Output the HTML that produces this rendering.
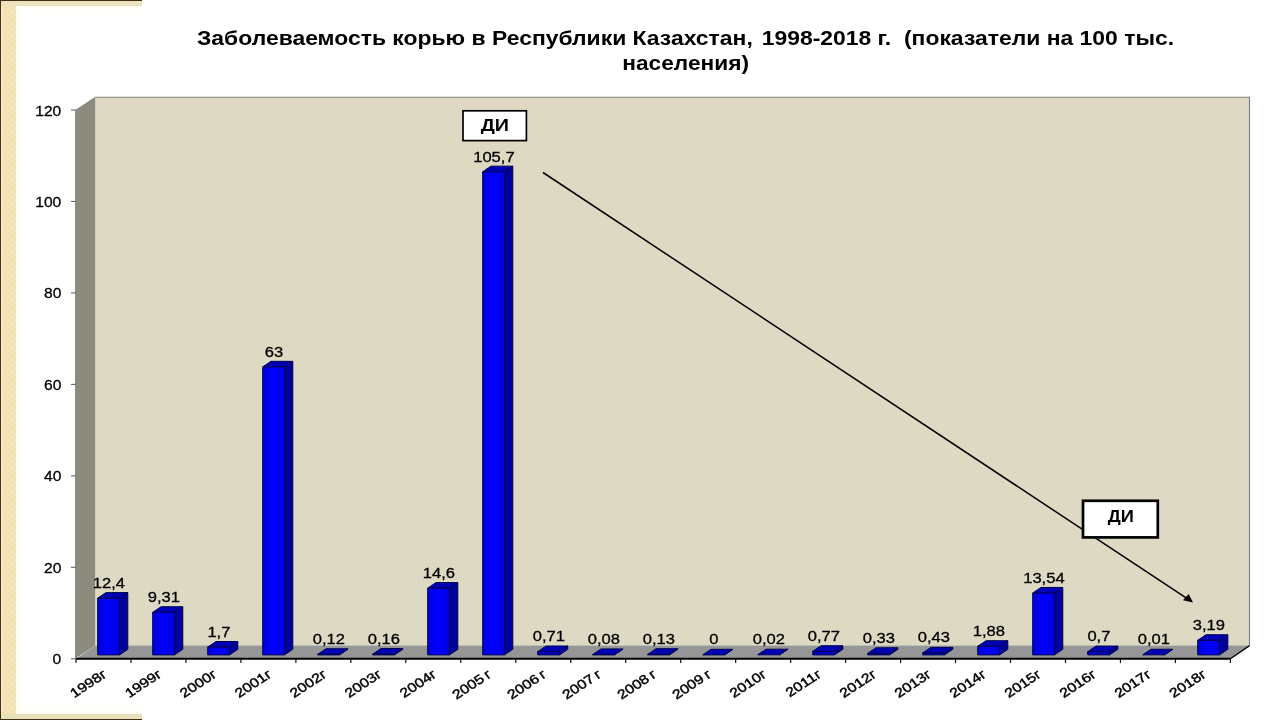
<!DOCTYPE html>
<html lang="ru">
<head>
<meta charset="utf-8">
<title>Заболеваемость корью в Республики Казахстан, 1998-2018 г.</title>
<style>
html,body{margin:0;padding:0;background:#fff;}
body{width:1280px;height:720px;overflow:hidden;position:relative;font-family:"Liberation Sans",sans-serif;}
#deco{position:absolute;left:0;top:0;width:142px;height:720px;background:#3e2f10;}
#deco .strip{position:absolute;left:1px;top:1px;right:0;bottom:1px;background:linear-gradient(#ece2c0,#ece2c0) 0 0/100% 5px no-repeat,linear-gradient(#e9e1ba,#e9e1ba) 0 100%/100% 5px no-repeat,linear-gradient(90deg,#fdf0d8 1px,rgba(253,240,216,0) 1px),repeating-conic-gradient(#f2dfb2 0 25%,#f7e5ba 0 50%) 0 0/6px 6px;}
#deco .inner{position:absolute;left:16px;top:5.5px;right:0;bottom:6px;background:#fff;box-shadow:inset 6px 0 5px -2px #fdfdf1, inset 0 6px 6px -3px #fffef6, inset 0 -9px 8px -3px #fffef6;}
svg{position:absolute;left:0;top:0;}
text{font-family:"Liberation Sans",sans-serif;fill:#000;}
.t{font-weight:bold;font-size:20px;white-space:pre;}
.ax,.dl{stroke:#000;stroke-width:0.3px;}
.xl{stroke:#000;stroke-width:0.42px;}
.ax{font-size:15px;}
.dl{font-size:15.2px;}
.xl{font-size:13.2px;word-spacing:-1.2px;}
.di{font-weight:bold;font-size:17.33px;}
.di2{font-weight:bold;font-size:16px;}
</style>
</head>
<body>
<div id="deco"><div class="strip"></div><div class="inner"></div></div>
<svg width="1280" height="720" viewBox="0 0 1280 720">
<text class="t" transform="translate(197.00,45.00) scale(1.146,1)" xml:space="preserve">Заболеваемость корью в Республики Казахстан, <tspan dx="2.2">1998-2018 г.  (показатели на 100 тыс.</tspan></text>
<text class="t" transform="translate(685.60,70.00) scale(1.135,1)" text-anchor="middle">населения)</text>
<defs><linearGradient id="fg" x1="0" x2="1" y1="0" y2="0"><stop offset="0" stop-color="#0000d6"/><stop offset="0.45" stop-color="#0000ff"/><stop offset="1" stop-color="#0000e2"/></linearGradient></defs>
<polygon points="75.0,658.8 95.5,645.5999999999999 95.5,97.3 75.0,110.8" fill="#8d8b7d"/>
<rect x="95.5" y="97.3" width="1154.0" height="548.3" fill="#ddd9c3"/>
<polyline points="95.5,97.3 1249.5,97.3 1249.5,645.5999999999999" fill="none" stroke="#7c7c78" stroke-width="1.1"/>
<polyline points="76.0,110.0 95.5,97.3" fill="none" stroke="#808080" stroke-width="1"/>
<polygon points="76.0,658.8 95.5,645.5999999999999 1249.5,645.5999999999999 1230.4,658.8" fill="#969696"/>
<polygon points="119.50,654.9 127.80,649.30 127.80,592.62 119.50,598.22" fill="#00009c" stroke="#000050" stroke-width="1" stroke-linejoin="round"/><polygon points="97.70,598.22 106.00,592.62 127.80,592.62 119.50,598.22" fill="#0000b4" stroke="#000050" stroke-width="1" stroke-linejoin="round"/><rect x="97.70" y="598.22" width="21.8" height="56.68" fill="url(#fg)" stroke="#000050" stroke-width="1" stroke-linejoin="round"/>
<polygon points="174.50,654.9 182.80,649.30 182.80,606.74 174.50,612.34" fill="#00009c" stroke="#000050" stroke-width="1" stroke-linejoin="round"/><polygon points="152.70,612.34 161.00,606.74 182.80,606.74 174.50,612.34" fill="#0000b4" stroke="#000050" stroke-width="1" stroke-linejoin="round"/><rect x="152.70" y="612.34" width="21.8" height="42.56" fill="url(#fg)" stroke="#000050" stroke-width="1" stroke-linejoin="round"/>
<polygon points="229.50,654.9 237.80,649.30 237.80,641.53 229.50,647.13" fill="#00009c" stroke="#000050" stroke-width="1" stroke-linejoin="round"/><polygon points="207.70,647.13 216.00,641.53 237.80,641.53 229.50,647.13" fill="#0000b4" stroke="#000050" stroke-width="1" stroke-linejoin="round"/><rect x="207.70" y="647.13" width="21.8" height="7.77" fill="url(#fg)" stroke="#000050" stroke-width="1" stroke-linejoin="round"/>
<polygon points="284.50,654.9 292.80,649.30 292.80,361.33 284.50,366.93" fill="#00009c" stroke="#000050" stroke-width="1" stroke-linejoin="round"/><polygon points="262.70,366.93 271.00,361.33 292.80,361.33 284.50,366.93" fill="#0000b4" stroke="#000050" stroke-width="1" stroke-linejoin="round"/><rect x="262.70" y="366.93" width="21.8" height="287.97" fill="url(#fg)" stroke="#000050" stroke-width="1" stroke-linejoin="round"/>
<polygon points="339.50,654.9 347.80,649.30 347.80,648.75 339.50,654.35" fill="#00009c" stroke="#000050" stroke-width="1" stroke-linejoin="round"/><polygon points="317.70,654.35 326.00,648.75 347.80,648.75 339.50,654.35" fill="#0000b4" stroke="#000050" stroke-width="1" stroke-linejoin="round"/><rect x="317.70" y="654.35" width="21.8" height="0.55" fill="#0000c8" stroke="#000050" stroke-width="1" stroke-linejoin="round"/>
<polygon points="394.50,654.9 402.80,649.30 402.80,648.57 394.50,654.17" fill="#00009c" stroke="#000050" stroke-width="1" stroke-linejoin="round"/><polygon points="372.70,654.17 381.00,648.57 402.80,648.57 394.50,654.17" fill="#0000b4" stroke="#000050" stroke-width="1" stroke-linejoin="round"/><rect x="372.70" y="654.17" width="21.8" height="0.73" fill="#0000c8" stroke="#000050" stroke-width="1" stroke-linejoin="round"/>
<polygon points="449.50,654.9 457.80,649.30 457.80,582.56 449.50,588.16" fill="#00009c" stroke="#000050" stroke-width="1" stroke-linejoin="round"/><polygon points="427.70,588.16 436.00,582.56 457.80,582.56 449.50,588.16" fill="#0000b4" stroke="#000050" stroke-width="1" stroke-linejoin="round"/><rect x="427.70" y="588.16" width="21.8" height="66.74" fill="url(#fg)" stroke="#000050" stroke-width="1" stroke-linejoin="round"/>
<polygon points="504.50,654.9 512.80,649.30 512.80,166.15 504.50,171.75" fill="#00009c" stroke="#000050" stroke-width="1" stroke-linejoin="round"/><polygon points="482.70,171.75 491.00,166.15 512.80,166.15 504.50,171.75" fill="#0000b4" stroke="#000050" stroke-width="1" stroke-linejoin="round"/><rect x="482.70" y="171.75" width="21.8" height="483.15" fill="url(#fg)" stroke="#000050" stroke-width="1" stroke-linejoin="round"/>
<polygon points="559.50,654.9 567.80,649.30 567.80,646.05 559.50,651.65" fill="#00009c" stroke="#000050" stroke-width="1" stroke-linejoin="round"/><polygon points="537.70,651.65 546.00,646.05 567.80,646.05 559.50,651.65" fill="#0000b4" stroke="#000050" stroke-width="1" stroke-linejoin="round"/><rect x="537.70" y="651.65" width="21.8" height="3.25" fill="#0000c8" stroke="#000050" stroke-width="1" stroke-linejoin="round"/>
<polygon points="614.50,654.9 622.80,649.30 622.80,648.93 614.50,654.53" fill="#00009c" stroke="#000050" stroke-width="1" stroke-linejoin="round"/><polygon points="592.70,654.53 601.00,648.93 622.80,648.93 614.50,654.53" fill="#0000b4" stroke="#000050" stroke-width="1" stroke-linejoin="round"/><rect x="592.70" y="654.53" width="21.8" height="0.37" fill="#0000c8" stroke="#000050" stroke-width="1" stroke-linejoin="round"/>
<polygon points="669.50,654.9 677.80,649.30 677.80,648.71 669.50,654.31" fill="#00009c" stroke="#000050" stroke-width="1" stroke-linejoin="round"/><polygon points="647.70,654.31 656.00,648.71 677.80,648.71 669.50,654.31" fill="#0000b4" stroke="#000050" stroke-width="1" stroke-linejoin="round"/><rect x="647.70" y="654.31" width="21.8" height="0.59" fill="#0000c8" stroke="#000050" stroke-width="1" stroke-linejoin="round"/>
<polygon points="724.50,654.9 732.80,649.30 732.80,649.30 724.50,654.90" fill="#00009c" stroke="#000050" stroke-width="1" stroke-linejoin="round"/><polygon points="702.70,654.90 711.00,649.30 732.80,649.30 724.50,654.90" fill="#0000b4" stroke="#000050" stroke-width="1" stroke-linejoin="round"/>
<polygon points="779.50,654.9 787.80,649.30 787.80,649.21 779.50,654.81" fill="#00009c" stroke="#000050" stroke-width="1" stroke-linejoin="round"/><polygon points="757.70,654.81 766.00,649.21 787.80,649.21 779.50,654.81" fill="#0000b4" stroke="#000050" stroke-width="1" stroke-linejoin="round"/>
<polygon points="834.50,654.9 842.80,649.30 842.80,645.78 834.50,651.38" fill="#00009c" stroke="#000050" stroke-width="1" stroke-linejoin="round"/><polygon points="812.70,651.38 821.00,645.78 842.80,645.78 834.50,651.38" fill="#0000b4" stroke="#000050" stroke-width="1" stroke-linejoin="round"/><rect x="812.70" y="651.38" width="21.8" height="3.52" fill="#0000c8" stroke="#000050" stroke-width="1" stroke-linejoin="round"/>
<polygon points="889.50,654.9 897.80,649.30 897.80,647.79 889.50,653.39" fill="#00009c" stroke="#000050" stroke-width="1" stroke-linejoin="round"/><polygon points="867.70,653.39 876.00,647.79 897.80,647.79 889.50,653.39" fill="#0000b4" stroke="#000050" stroke-width="1" stroke-linejoin="round"/><rect x="867.70" y="653.39" width="21.8" height="1.51" fill="#0000c8" stroke="#000050" stroke-width="1" stroke-linejoin="round"/>
<polygon points="944.50,654.9 952.80,649.30 952.80,647.33 944.50,652.93" fill="#00009c" stroke="#000050" stroke-width="1" stroke-linejoin="round"/><polygon points="922.70,652.93 931.00,647.33 952.80,647.33 944.50,652.93" fill="#0000b4" stroke="#000050" stroke-width="1" stroke-linejoin="round"/><rect x="922.70" y="652.93" width="21.8" height="1.97" fill="#0000c8" stroke="#000050" stroke-width="1" stroke-linejoin="round"/>
<polygon points="999.50,654.9 1007.80,649.30 1007.80,640.71 999.50,646.31" fill="#00009c" stroke="#000050" stroke-width="1" stroke-linejoin="round"/><polygon points="977.70,646.31 986.00,640.71 1007.80,640.71 999.50,646.31" fill="#0000b4" stroke="#000050" stroke-width="1" stroke-linejoin="round"/><rect x="977.70" y="646.31" width="21.8" height="8.59" fill="url(#fg)" stroke="#000050" stroke-width="1" stroke-linejoin="round"/>
<polygon points="1054.50,654.9 1062.80,649.30 1062.80,587.41 1054.50,593.01" fill="#00009c" stroke="#000050" stroke-width="1" stroke-linejoin="round"/><polygon points="1032.70,593.01 1041.00,587.41 1062.80,587.41 1054.50,593.01" fill="#0000b4" stroke="#000050" stroke-width="1" stroke-linejoin="round"/><rect x="1032.70" y="593.01" width="21.8" height="61.89" fill="url(#fg)" stroke="#000050" stroke-width="1" stroke-linejoin="round"/>
<polygon points="1109.50,654.9 1117.80,649.30 1117.80,646.10 1109.50,651.70" fill="#00009c" stroke="#000050" stroke-width="1" stroke-linejoin="round"/><polygon points="1087.70,651.70 1096.00,646.10 1117.80,646.10 1109.50,651.70" fill="#0000b4" stroke="#000050" stroke-width="1" stroke-linejoin="round"/><rect x="1087.70" y="651.70" width="21.8" height="3.20" fill="#0000c8" stroke="#000050" stroke-width="1" stroke-linejoin="round"/>
<polygon points="1164.50,654.9 1172.80,649.30 1172.80,649.25 1164.50,654.85" fill="#00009c" stroke="#000050" stroke-width="1" stroke-linejoin="round"/><polygon points="1142.70,654.85 1151.00,649.25 1172.80,649.25 1164.50,654.85" fill="#0000b4" stroke="#000050" stroke-width="1" stroke-linejoin="round"/>
<polygon points="1219.50,654.9 1227.80,649.30 1227.80,634.72 1219.50,640.32" fill="#00009c" stroke="#000050" stroke-width="1" stroke-linejoin="round"/><polygon points="1197.70,640.32 1206.00,634.72 1227.80,634.72 1219.50,640.32" fill="#0000b4" stroke="#000050" stroke-width="1" stroke-linejoin="round"/><rect x="1197.70" y="640.32" width="21.8" height="14.58" fill="url(#fg)" stroke="#000050" stroke-width="1" stroke-linejoin="round"/>
<line x1="76.0" y1="658.8" x2="1230.4" y2="658.8" stroke="#000" stroke-width="2"/>
<line x1="1230.4" y1="658.8" x2="1249.5" y2="645.5999999999999" stroke="#000" stroke-width="1.3"/>
<line x1="76.00" y1="658.8" x2="76.00" y2="663.0999999999999" stroke="#111" stroke-width="1.2"/><line x1="130.97" y1="658.8" x2="130.97" y2="663.0999999999999" stroke="#111" stroke-width="1.2"/><line x1="185.94" y1="658.8" x2="185.94" y2="663.0999999999999" stroke="#111" stroke-width="1.2"/><line x1="240.91" y1="658.8" x2="240.91" y2="663.0999999999999" stroke="#111" stroke-width="1.2"/><line x1="295.89" y1="658.8" x2="295.89" y2="663.0999999999999" stroke="#111" stroke-width="1.2"/><line x1="350.86" y1="658.8" x2="350.86" y2="663.0999999999999" stroke="#111" stroke-width="1.2"/><line x1="405.83" y1="658.8" x2="405.83" y2="663.0999999999999" stroke="#111" stroke-width="1.2"/><line x1="460.80" y1="658.8" x2="460.80" y2="663.0999999999999" stroke="#111" stroke-width="1.2"/><line x1="515.77" y1="658.8" x2="515.77" y2="663.0999999999999" stroke="#111" stroke-width="1.2"/><line x1="570.74" y1="658.8" x2="570.74" y2="663.0999999999999" stroke="#111" stroke-width="1.2"/><line x1="625.71" y1="658.8" x2="625.71" y2="663.0999999999999" stroke="#111" stroke-width="1.2"/><line x1="680.69" y1="658.8" x2="680.69" y2="663.0999999999999" stroke="#111" stroke-width="1.2"/><line x1="735.66" y1="658.8" x2="735.66" y2="663.0999999999999" stroke="#111" stroke-width="1.2"/><line x1="790.63" y1="658.8" x2="790.63" y2="663.0999999999999" stroke="#111" stroke-width="1.2"/><line x1="845.60" y1="658.8" x2="845.60" y2="663.0999999999999" stroke="#111" stroke-width="1.2"/><line x1="900.57" y1="658.8" x2="900.57" y2="663.0999999999999" stroke="#111" stroke-width="1.2"/><line x1="955.54" y1="658.8" x2="955.54" y2="663.0999999999999" stroke="#111" stroke-width="1.2"/><line x1="1010.51" y1="658.8" x2="1010.51" y2="663.0999999999999" stroke="#111" stroke-width="1.2"/><line x1="1065.49" y1="658.8" x2="1065.49" y2="663.0999999999999" stroke="#111" stroke-width="1.2"/><line x1="1120.46" y1="658.8" x2="1120.46" y2="663.0999999999999" stroke="#111" stroke-width="1.2"/><line x1="1175.43" y1="658.8" x2="1175.43" y2="663.0999999999999" stroke="#111" stroke-width="1.2"/><line x1="1230.40" y1="658.8" x2="1230.40" y2="663.0999999999999" stroke="#111" stroke-width="1.2"/>
<line x1="71.0" y1="658.80" x2="76.0" y2="658.80" stroke="#666" stroke-width="1.1"/><text class="ax" transform="translate(61.30,664.30) scale(1.04,1)" text-anchor="end">0</text>
<line x1="71.0" y1="567.33" x2="76.0" y2="567.33" stroke="#666" stroke-width="1.1"/><text class="ax" transform="translate(61.30,572.83) scale(1.04,1)" text-anchor="end">20</text>
<line x1="71.0" y1="475.87" x2="76.0" y2="475.87" stroke="#666" stroke-width="1.1"/><text class="ax" transform="translate(61.30,481.37) scale(1.04,1)" text-anchor="end">40</text>
<line x1="71.0" y1="384.40" x2="76.0" y2="384.40" stroke="#666" stroke-width="1.1"/><text class="ax" transform="translate(61.30,389.90) scale(1.04,1)" text-anchor="end">60</text>
<line x1="71.0" y1="292.93" x2="76.0" y2="292.93" stroke="#666" stroke-width="1.1"/><text class="ax" transform="translate(61.30,298.43) scale(1.04,1)" text-anchor="end">80</text>
<line x1="71.0" y1="201.47" x2="76.0" y2="201.47" stroke="#666" stroke-width="1.1"/><text class="ax" transform="translate(61.30,206.97) scale(1.04,1)" text-anchor="end">100</text>
<line x1="71.0" y1="110.00" x2="76.0" y2="110.00" stroke="#666" stroke-width="1.1"/><text class="ax" transform="translate(61.30,115.50) scale(1.04,1)" text-anchor="end">120</text>
<text class="dl" transform="translate(108.90,587.76) scale(1.09,1)" text-anchor="middle">12,4</text><text class="dl" transform="translate(163.90,601.87) scale(1.09,1)" text-anchor="middle">9,31</text><text class="dl" transform="translate(218.90,636.63) scale(1.09,1)" text-anchor="middle">1,7</text><text class="dl" transform="translate(273.90,356.62) scale(1.09,1)" text-anchor="middle">63</text><text class="dl" transform="translate(328.90,643.85) scale(1.09,1)" text-anchor="middle">0,12</text><text class="dl" transform="translate(383.90,643.67) scale(1.09,1)" text-anchor="middle">0,16</text><text class="dl" transform="translate(438.90,577.71) scale(1.09,1)" text-anchor="middle">14,6</text><text class="dl" transform="translate(493.90,161.56) scale(1.09,1)" text-anchor="middle">105,7</text><text class="dl" transform="translate(548.90,641.16) scale(1.09,1)" text-anchor="middle">0,71</text><text class="dl" transform="translate(603.90,644.03) scale(1.09,1)" text-anchor="middle">0,08</text><text class="dl" transform="translate(658.90,643.81) scale(1.09,1)" text-anchor="middle">0,13</text><text class="dl" transform="translate(713.90,644.40) scale(1.09,1)" text-anchor="middle">0</text><text class="dl" transform="translate(768.90,644.31) scale(1.09,1)" text-anchor="middle">0,02</text><text class="dl" transform="translate(823.90,640.88) scale(1.09,1)" text-anchor="middle">0,77</text><text class="dl" transform="translate(878.90,642.89) scale(1.09,1)" text-anchor="middle">0,33</text><text class="dl" transform="translate(933.90,642.44) scale(1.09,1)" text-anchor="middle">0,43</text><text class="dl" transform="translate(988.90,635.81) scale(1.09,1)" text-anchor="middle">1,88</text><text class="dl" transform="translate(1043.90,582.55) scale(1.09,1)" text-anchor="middle">13,54</text><text class="dl" transform="translate(1098.90,641.20) scale(1.09,1)" text-anchor="middle">0,7</text><text class="dl" transform="translate(1153.90,644.35) scale(1.09,1)" text-anchor="middle">0,01</text><text class="dl" transform="translate(1208.90,629.83) scale(1.09,1)" text-anchor="middle">3,19</text>
<text class="xl" transform="translate(107.79,676.0) rotate(-33.5) skewX(4) scale(1.18,1)" text-anchor="end">1998г</text><text class="xl" transform="translate(162.76,676.0) rotate(-33.5) skewX(4) scale(1.18,1)" text-anchor="end">1999г</text><text class="xl" transform="translate(217.73,676.0) rotate(-33.5) skewX(4) scale(1.18,1)" text-anchor="end">2000г</text><text class="xl" transform="translate(272.70,676.0) rotate(-33.5) skewX(4) scale(1.18,1)" text-anchor="end">2001г</text><text class="xl" transform="translate(327.67,676.0) rotate(-33.5) skewX(4) scale(1.18,1)" text-anchor="end">2002г</text><text class="xl" transform="translate(382.64,676.0) rotate(-33.5) skewX(4) scale(1.18,1)" text-anchor="end">2003г</text><text class="xl" transform="translate(437.61,676.0) rotate(-33.5) skewX(4) scale(1.18,1)" text-anchor="end">2004г</text><text class="xl" transform="translate(492.59,676.0) rotate(-33.5) skewX(4) scale(1.18,1)" text-anchor="end">2005 г</text><text class="xl" transform="translate(547.56,676.0) rotate(-33.5) skewX(4) scale(1.18,1)" text-anchor="end">2006 г</text><text class="xl" transform="translate(602.53,676.0) rotate(-33.5) skewX(4) scale(1.18,1)" text-anchor="end">2007 г</text><text class="xl" transform="translate(657.50,676.0) rotate(-33.5) skewX(4) scale(1.18,1)" text-anchor="end">2008 г</text><text class="xl" transform="translate(712.47,676.0) rotate(-33.5) skewX(4) scale(1.18,1)" text-anchor="end">2009 г</text><text class="xl" transform="translate(767.44,676.0) rotate(-33.5) skewX(4) scale(1.18,1)" text-anchor="end">2010г</text><text class="xl" transform="translate(822.41,676.0) rotate(-33.5) skewX(4) scale(1.18,1)" text-anchor="end">2011г</text><text class="xl" transform="translate(877.39,676.0) rotate(-33.5) skewX(4) scale(1.18,1)" text-anchor="end">2012г</text><text class="xl" transform="translate(932.36,676.0) rotate(-33.5) skewX(4) scale(1.18,1)" text-anchor="end">2013г</text><text class="xl" transform="translate(987.33,676.0) rotate(-33.5) skewX(4) scale(1.18,1)" text-anchor="end">2014г</text><text class="xl" transform="translate(1042.30,676.0) rotate(-33.5) skewX(4) scale(1.18,1)" text-anchor="end">2015г</text><text class="xl" transform="translate(1097.27,676.0) rotate(-33.5) skewX(4) scale(1.18,1)" text-anchor="end">2016г</text><text class="xl" transform="translate(1152.24,676.0) rotate(-33.5) skewX(4) scale(1.18,1)" text-anchor="end">2017г</text><text class="xl" transform="translate(1207.21,676.0) rotate(-33.5) skewX(4) scale(1.18,1)" text-anchor="end">2018г</text>
<line x1="543" y1="172.5" x2="1188" y2="599.2" stroke="#000" stroke-width="1.5"/>
<polygon points="1193,602.5 1183,600.2 1188.7,594" fill="#000"/>
<rect x="463" y="110.8" width="63.4" height="29.8" fill="#fff" stroke="#000" stroke-width="1.7"/>
<text class="di" transform="translate(494.80,130.70) scale(1.14,1)" text-anchor="middle">ДИ</text>
<rect x="1083.0" y="500.8" width="74.8" height="36.6" fill="#fff" stroke="#000" stroke-width="2.7"/>
<text class="di2" transform="translate(1120.90,522.20) scale(1.14,1)" text-anchor="middle">ДИ</text>
</svg>
</body>
</html>
